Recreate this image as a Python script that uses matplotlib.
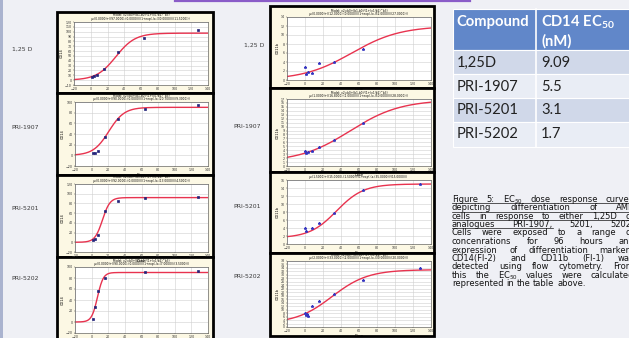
import numpy as np
import matplotlib
matplotlib.use("Agg")
import matplotlib.pyplot as plt
from matplotlib.patches import Rectangle
from matplotlib.lines import Line2D

plt.rcParams['mathtext.fontset'] = 'custom'
plt.rcParams['mathtext.rm'] = 'Lato'
plt.rcParams['mathtext.bf'] = 'Lato:bold'

# ---- data ----
row_names = ["1,25 D", "PRI-1907", "PRI-5201", "PRI-5202"]
table_compounds = ["1,25D", "PRI-1907", "PRI-5201", "PRI-5202"]
table_ec50 = ["9.09", "5.5", "3.1", "1.7"]

# left column, CD14 response vs dose
cd14_dose = [[2, 4, 8, 16, 32, 64, 128],
             [2, 4, 8, 16, 32, 64, 128],
             [2, 4, 8, 16, 32, 64, 128],
             [2, 4, 8, 16, 64, 128]]
cd14_resp = [[7, 9, 11, 24, 58, 88, 104],
             [4, 5, 9, 34, 69, 86, 94],
             [4, 6, 14, 64, 86, 92, 94],
             [5, 28, 57, 80, 91, 92]]
# fitted curve: bottom, top, midpoint, width
cd14_fit = [[0, 97, 30, 11.5], [0, 90, 20.7, 9.3], [0, 92, 13, 4.5], [0, 90, 7, 3.5]]
cd14_yaxis = [(-10, 120, 10), (-20, 100, 20), (-20, 120, 20), (-20, 100, 20)]

# right column, CD11b response vs dose
cd11b_dose = [[0, 1, 3, 8, 16, 32, 64],
              [0, 1, 3, 8, 16, 32, 64],
              [0, 1, 8, 16, 32, 64, 128],
              [0, 1, 2, 3, 8, 16, 32, 64, 128]]
cd11b_resp = [[2.8, 1.3, 1.8, 1.6, 3.7, 4.0, 7.0],
              [3.9, 3.4, 3.6, 3.7, 4.7, 6.5, 11.0],
              [3.9, 3.3, 4.0, 5.2, 7.7, 13.6, 14.9],
              [8.0, 7.0, 7.4, 6.1, 12.2, 15.2, 19.0, 27.0, 34.2]]
cd11b_fit = [[0, 12, 52, 27], [1, 16.8, 50, 28], [1.5, 15, 35, 15], [2, 33, 30, 20]]
cd11b_yaxis = [(0, 14, 2), (0, 17, 1), (0, 16, 2), (0, 38, 2)]

caption = [
    "Figure 5: EC$_{50}$ dose response curves",
    "depicting differentiation of AML",
    "cells in response to either 1,25D or",
    "analogues PRI-1907, 5201, 5202.",
    "Cells were exposed to a range of",
    "concenrations for 96 hours and",
    "expression of differentiation markers",
    "CD14(Fl-2) and CD11b (Fl-1) was",
    "detected using flow cytometry. From",
    "this the EC$_{50}$ values were calculated",
    "represented in the table above.",
]

# ---- layout (pixels) ----
W, H = 629, 338
left_frames = [(57, 12, 213, 93), (57, 93, 213, 175), (57, 175, 213, 257), (57, 257, 213, 341)]
left_plots = [(74, 22, 208, 85), (75, 102, 208, 166), (75, 184, 208, 252), (75, 267, 208, 333)]
right_frames = [(270, 6, 434, 88), (270, 88, 434, 172), (270, 172, 434, 253), (270, 253, 434, 336)]
right_plots = [(287, 17, 431, 80), (287, 99, 431, 166), (287, 180, 431, 244), (287, 261, 431, 327)]
left_label_xy = [(12, 49), (11, 128), (11, 208), (11, 278)]
right_label_xy = [(244, 45), (233, 126), (233, 206), (233, 276)]

fig = plt.figure(figsize=(W / 100, H / 100), dpi=100)
fig.patch.set_facecolor('#eff0f5')


def rect(x0, y0, x1, y1):
    return [x0 / W, 1 - y1 / H, (x1 - x0) / W, (y1 - y0) / H]


def ftext(x, y, s, **kw):
    return fig.text(x / W, 1 - y / H, s, **kw)


def panel(frame, plot, dose, resp, fit, yaxis, ylab, marker, mcolor):
    fr = rect(*frame)
    fig.add_artist(Rectangle(fr[:2], fr[2], fr[3], transform=fig.transFigure,
                             facecolor='#fcf8e4', edgecolor='black', lw=2.0, zorder=-1))
    ax = fig.add_axes(rect(*plot))
    ax.set_facecolor('white')
    xx = np.linspace(-20, 140, 300)
    b, t, m, s = fit
    ax.plot(xx, b + (t - b) / (1 + np.exp(-(xx - m) / s)), color='#e8334f', lw=1.0)
    ax.plot(dose, resp, ls='none', marker=marker, ms=2, color=mcolor, mew=0.5)
    ax.set_xlim(-20, 140)
    ax.set_xticks(range(-20, 141, 20))
    lo, hi, st = yaxis
    ax.set_ylim(lo, hi)
    ax.set_yticks(np.arange(lo, hi + 0.01, st))
    ax.grid(color='#cfcfcf', lw=0.4)
    ax.set_axisbelow(True)
    ax.tick_params(labelsize=2.3, length=1, width=0.3, pad=0.6, colors='#333333')
    for sp in ax.spines.values():
        sp.set_linewidth(0.5)
        sp.set_color('#666666')
    ax.set_ylabel(ylab, fontsize=2.5, labelpad=0.8)
    ax.set_xlabel("Dose", fontsize=2.5, labelpad=0.4)
    cx = (plot[0] + plot[2]) / 2
    ftext(cx, plot[1] - 6.5, "Model: v2=b0+(b1-b0)/(1+(v1/b2)^b3)",
          fontsize=2.1, ha='center', va='center')
    ftext(cx, plot[1] - 2.8,
          "y=(%.4f)+((%.4f)-(%.4f))/(1+exp(-(x-(%.4f))/(%.4f)))" % (b, t, b, m, s),
          fontsize=2.1, ha='center', va='center')


for i in range(4):
    panel(left_frames[i], left_plots[i], cd14_dose[i], cd14_resp[i], cd14_fit[i],
          cd14_yaxis[i], "CD14", 's', '#23237a')
    panel(right_frames[i], right_plots[i], cd11b_dose[i], cd11b_resp[i], cd11b_fit[i],
          cd11b_yaxis[i], "CD11b", '*', '#3535c0')
    ftext(*left_label_xy[i], row_names[i], fontsize=4.4, color='#3a3a3a', va='center')
    ftext(*right_label_xy[i], row_names[i], fontsize=4.4, color='#3a3a3a', va='center')

# slide decorations
fig.add_artist(Rectangle((0, 0), 3 / W, 1, transform=fig.transFigure,
                         facecolor='#aab3cf', edgecolor='none', zorder=-1))
fig.add_artist(Line2D([175 / W, 470 / W], [1 - 1 / H, 1 - 1 / H], transform=fig.transFigure,
                      color='#8a5cc8', lw=1.6))

# table
tx0, tx1, tcol = 453, 640, 536
row_edges = [9, 50, 74, 98, 122, 147]
row_colors = ['#6187c9', '#d0d8e9', '#e9edf5', '#d0d8e9', '#e9edf5']
for k in range(5):
    cell = rect(tx0, row_edges[k], tx1, row_edges[k + 1])
    fig.add_artist(Rectangle(cell[:2], cell[2], cell[3], transform=fig.transFigure,
                             facecolor=row_colors[k], edgecolor='white', lw=0.8, zorder=-1))
fig.add_artist(Line2D([tcol / W, tcol / W], [1 - 9 / H, 1 - 147 / H],
                      transform=fig.transFigure, color='white', lw=1.2))
head_kw = dict(fontsize=10.6, fontweight='bold', family='Lato', color='white', va='center')
ftext(456, 22, "Compound", **head_kw)
ftext(541, 22, r"CD14 EC$_{\mathbf{50}}$", **head_kw)
ftext(541, 41, "(nM)", **head_kw)
row_y = [63, 87, 110, 134]
for k in range(4):
    ftext(457, row_y[k], table_compounds[k], fontsize=10.6, family='Lato', color='#222222', va='center')
    ftext(541, row_y[k], table_ec50[k], fontsize=10.6, family='Lato', color='#222222', va='center')

# caption, justified
cap_left, cap_right = 452, 634
cap_y = [202, 210.3, 218.7, 227, 235.3, 244.3, 252.7, 261, 269.3, 278, 286.3]
cap_kw = dict(fontsize=6.0, color='#141414', family='DejaVu Sans', va='baseline')
r = fig.canvas.get_renderer()


def width_of(s):
    t = ftext(0, 0, s, **cap_kw)
    w = t.get_window_extent(r).width
    t.remove()
    return w


space = width_of("a b") - width_of("a") - width_of("b")
for k, line in enumerate(caption):
    words = line.split(' ')
    widths = [width_of(w) for w in words]
    if k == len(caption) - 1:
        gap = space
    else:
        gap = max(space, (cap_right - cap_left - sum(widths)) / (len(words) - 1))
    x = cap_left
    ends = []
    for w, wd in zip(words, widths):
        ftext(x, cap_y[k], w, **cap_kw)
        x += wd
        ends.append(x)
        x += gap
    if k < 3:
        uend = cap_right
    elif k == 3:
        uend = ends[1]
    else:
        uend = None
    if uend is not None:
        fig.add_artist(Line2D([cap_left / W, uend / W], [1 - (cap_y[k] + 1.3) / H] * 2,
                              transform=fig.transFigure, color='#141414', lw=0.5))

fig.savefig("out.png", dpi=100, facecolor=fig.get_facecolor())
